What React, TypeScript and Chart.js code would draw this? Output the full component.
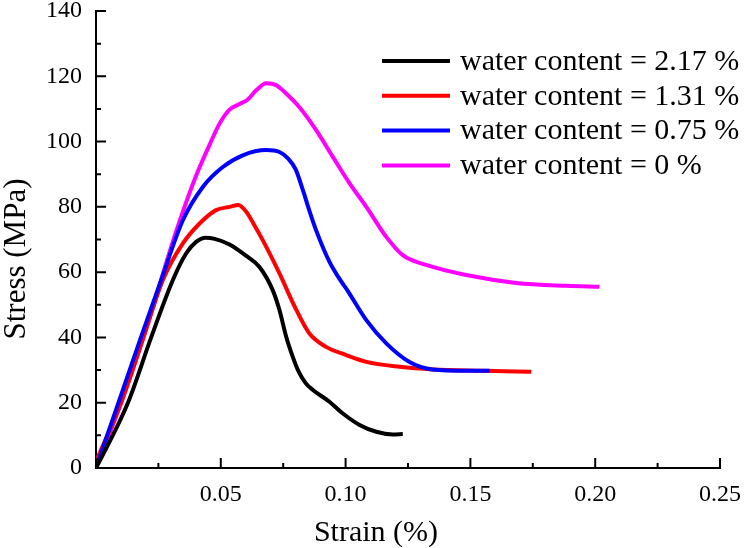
import React, { useEffect, useRef } from "react";
import { Chart, registerables } from "chart.js";

Chart.register(...registerables);

const FONT = '"Liberation Serif", "Times New Roman", serif';

const seriesLabels = [
  "water content = 2.17 %",
  "water content = 1.31 %",
  "water content = 0.75 %",
  "water content = 0 %",
];
const seriesColors = ["#000000", "#ff0000", "#0000ff", "#ff00ff"];

const strainW217 = [0, 0.0034, 0.0128, 0.0221, 0.0308, 0.0361, 0.04, 0.044, 0.0475, 0.0535, 0.0602, 0.0655, 0.0708, 0.0735, 0.0762, 0.0788, 0.0809, 0.084, 0.0869, 0.0935, 0.0989, 0.1056, 0.1123, 0.1189, 0.1229];
const stressW217 = [0, 5, 20, 40, 57.6, 65.7, 69.2, 70.5, 70.2, 68.5, 65.0, 61.6, 54.5, 48.4, 40.2, 34.1, 30.0, 26.0, 23.9, 20.3, 16.7, 13.2, 11.1, 10.3, 10.4];

const strainW131 = [0, 0.01, 0.019, 0.0268, 0.0348, 0.0415, 0.0481, 0.0535, 0.057, 0.0602, 0.063, 0.0668, 0.0735, 0.0802, 0.0855, 0.0922, 0.1002, 0.1083, 0.1216, 0.1349, 0.155, 0.1744];
const stressW131 = [2, 20, 40, 57.6, 68.8, 74.9, 79.0, 80.0, 80.6, 78.5, 75.0, 69.8, 59.6, 48.5, 41.2, 37.1, 34.6, 32.5, 31.0, 30.2, 29.8, 29.5];

const strainW075 = [0, 0.009, 0.018, 0.0265, 0.0348, 0.0428, 0.0508, 0.0588, 0.0682, 0.0735, 0.077, 0.08, 0.0829, 0.0855, 0.0882, 0.0935, 0.0975, 0.1009, 0.1083, 0.1163, 0.1256, 0.1349, 0.1483, 0.1577];
const stressW075 = [0, 20, 40, 58.5, 75.9, 86.1, 92.2, 95.8, 97.4, 96.8, 94.8, 91.5, 85.1, 78.8, 72.8, 63.2, 58.0, 54.2, 45.3, 38.2, 32.5, 30.2, 29.8, 29.8];

const strainW000 = [0, 0.0101, 0.019, 0.0245, 0.029, 0.0348, 0.0401, 0.0455, 0.0495, 0.0535, 0.0575, 0.0608, 0.0642, 0.0682, 0.0722, 0.0748, 0.0815, 0.0882, 0.0949, 0.1016, 0.1083, 0.1163, 0.1229, 0.1323, 0.1483, 0.1683, 0.1884, 0.2017];
const stressW000 = [0, 20, 40, 53.5, 65, 78.5, 89.5, 99.0, 105.5, 109.8, 111.5, 112.9, 115.7, 117.9, 117.3, 115.7, 110.5, 103.5, 95.3, 87.2, 80.0, 70.8, 65.2, 62.2, 59.1, 56.7, 55.8, 55.5];

const xMajorTicks = [0, 0.05, 0.1, 0.15, 0.2, 0.25];
const xMinorTicks = [0.025, 0.075, 0.125, 0.175, 0.225];
const yMajorTicks = [0, 20, 40, 60, 80, 100, 120, 140];
const yMinorTicks = [10, 30, 50, 70, 90, 110, 130];

const xTitle = "Strain (%)";
const yTitle = "Stress (MPa)";

const seriesStrain = [strainW217, strainW131, strainW075, strainW000];
const seriesStress = [stressW217, stressW131, stressW075, stressW000];

const decorPlugin = {
  id: "decor",
  afterDraw(chart: any) {
    const ctx = chart.ctx;
    const xs = chart.scales.x;
    const ys = chart.scales.y;
    const area = chart.chartArea;
    ctx.save();
    ctx.strokeStyle = "#000";
    ctx.lineWidth = 2;
    ctx.beginPath();
    xMajorTicks.forEach((v) => {
      const p = xs.getPixelForValue(v);
      ctx.moveTo(p, area.bottom);
      ctx.lineTo(p, area.bottom - 10);
    });
    xMinorTicks.forEach((v) => {
      const p = xs.getPixelForValue(v);
      ctx.moveTo(p, area.bottom);
      ctx.lineTo(p, area.bottom - 5);
    });
    yMajorTicks.forEach((v) => {
      const p = ys.getPixelForValue(v);
      ctx.moveTo(area.left, p);
      ctx.lineTo(area.left + 10, p);
    });
    yMinorTicks.forEach((v) => {
      const p = ys.getPixelForValue(v);
      ctx.moveTo(area.left, p);
      ctx.lineTo(area.left + 5, p);
    });
    ctx.stroke();

    // axis titles
    ctx.fillStyle = "#000";
    ctx.font = `30px ${FONT}`;
    ctx.textAlign = "center";
    ctx.textBaseline = "alphabetic";
    ctx.fillText(xTitle, 376, 541);
    ctx.save();
    ctx.translate(25, 259);
    ctx.rotate(-Math.PI / 2);
    ctx.font = `31px ${FONT}`;
    ctx.fillText(yTitle, 0, 0);
    ctx.restore();

    // legend
    const ds = chart.data.datasets;
    ctx.font = `30px ${FONT}`;
    ctx.textAlign = "left";
    ctx.textBaseline = "middle";
    ds.forEach((d: any, i: number) => {
      const y = 61 + i * 34.8;
      ctx.strokeStyle = d.borderColor;
      ctx.lineWidth = 4;
      ctx.beginPath();
      ctx.moveTo(382, y);
      ctx.lineTo(450, y);
      ctx.stroke();
      ctx.fillStyle = "#000";
      ctx.fillText(d.label, 460, y + 1);
    });
    ctx.restore();
  },
};

export default function App() {
  const ref = useRef<HTMLCanvasElement | null>(null);
  useEffect(() => {
    if (!ref.current) return;
    const datasets = seriesLabels.map((label, i) => ({
      label,
      data: seriesStrain[i].map((x, j) => ({ x, y: seriesStress[i][j] })),
      borderColor: seriesColors[i],
      backgroundColor: seriesColors[i],
      borderWidth: 4,
      pointRadius: 0,
      cubicInterpolationMode: "monotone" as const,
      fill: false,
      order: [1, 3, 2, 4][i],
    }));
    const chart = new Chart(ref.current, {
      type: "line",
      data: { datasets },
      options: {
        animation: false,
        responsive: true,
        maintainAspectRatio: false,
        layout: { padding: { left: 0, top: 11, right: 30, bottom: 0 } },
        plugins: { legend: { display: false }, tooltip: { enabled: false } },
        scales: {
          x: {
            type: "linear",
            min: 0,
            max: 0.25,
            grid: { display: false, drawTicks: false },
            border: { display: true, color: "#000", width: 2 },
            ticks: {
              stepSize: 0.05,
              padding: 12,
              color: "#000",
              font: { family: FONT, size: 24 },
              maxRotation: 0,
              callback: (v: any) => (Math.abs(Number(v)) < 1e-9 ? "" : Number(v).toFixed(2)),
            },
            afterFit: (s: any) => {
              s.height = 80;
              s.paddingLeft = 0;
              s.paddingRight = 0;
            },
          },
          y: {
            type: "linear",
            min: 0,
            max: 140,
            grid: { display: false, drawTicks: false },
            border: { display: true, color: "#000", width: 2 },
            ticks: {
              stepSize: 20,
              padding: 14,
              color: "#000",
              font: { family: FONT, size: 24 },
            },
            afterFit: (s: any) => {
              s.width = 96;
              s.paddingTop = 0;
              s.paddingBottom = 0;
            },
          },
        },
      },
      plugins: [decorPlugin],
    });
    return () => chart.destroy();
  }, []);
  return (
    <div style={{ position: "fixed", left: 0, top: 0, width: 750, height: 548, background: "#fff" }}>
      <canvas ref={ref} />
    </div>
  );
}
